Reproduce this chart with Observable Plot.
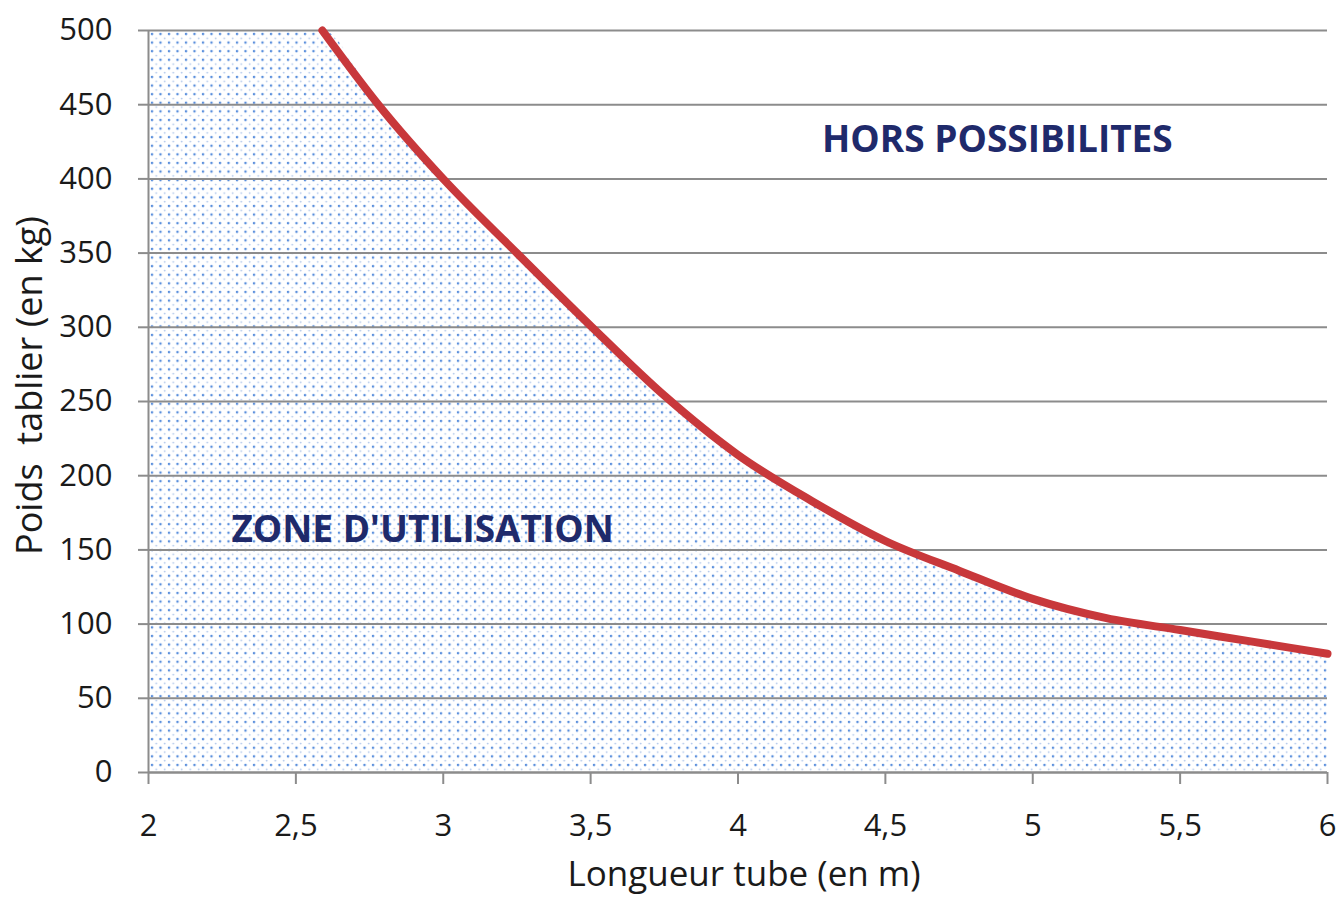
<!DOCTYPE html>
<html>
<head>
<meta charset="utf-8">
<script src="https://cdn.jsdelivr.net/npm/d3@7"></script>
<script src="https://cdn.jsdelivr.net/npm/@observablehq/plot@0.6"></script>
<style>
  html, body { margin: 0; padding: 0; background: #fff; }
  #chart svg { display: block; }
</style>
</head>
<body>
<div id="chart"></div>
<script>
// Curve: Longueur tube (m) -> Poids tablier max (kg)
const longueur = [2.59, 2.78, 3.0, 3.25, 3.5, 3.75, 4.0, 4.25, 4.5, 4.75, 5.0, 5.25, 5.5, 5.75, 6.0];
const poids    = [500,  450,  400, 350,  301, 254,  214, 183,  156, 136,  117, 104,  96,   88,   80];
// Zone d'utilisation: capped at 500 from x=2
const zoneX = [2.0, ...longueur];
const zoneY = [500, ...poids];
const xTicks = [2, 2.5, 3, 3.5, 4, 4.5, 5, 5.5, 6];
const yTicks = [0, 50, 100, 150, 200, 250, 300, 350, 400, 450, 500];
const labels = ["HORS POSSIBILITES", "ZONE D'UTILISATION"];
const labelX = [4.88, 2.93];
const labelY = [426, 163];
const xTitle = "Longueur tube (en m)";
const yTitle = "Poids  tablier (en kg)";

const curve = longueur.map((x, i) => ({x, y: poids[i]}));
const zone = zoneX.map((x, i) => ({x, y: zoneY[i]}));
const notes = labels.map((t, i) => ({t, x: labelX[i], y: labelY[i]}));

const defs = () => {
  const d = d3.create("svg:defs");
  const p = d.append("pattern").attr("id", "dots").attr("patternUnits", "userSpaceOnUse")
    .attr("width", 8.5).attr("height", 8.6).attr("x", 150).attr("y", 32);
  p.append("circle").attr("cx", 2).attr("cy", 2).attr("r", 1.3).attr("fill", "#5a8fdc");
  p.append("circle").attr("cx", 6.25).attr("cy", 6.3).attr("r", 0.9).attr("fill", "#a9c2e8");
  return d.node();
};

const fmt = d => String(d).replace(".", ",");
const font = "'Open Sans', sans-serif";

const chart = Plot.plot({
  width: 1338,
  height: 897,
  marginLeft: 148,
  marginRight: 11,
  marginTop: 30,
  marginBottom: 125,
  style: {fontFamily: font, fontSize: "31px", color: "#1a1a1a", background: "#fff"},
  x: {domain: [2, 6]},
  y: {domain: [0, 500]},
  marks: [
    defs,
    Plot.areaY(zone, {x: "x", y: "y", fill: "url(#dots)", curve: "monotone-x"}),
    Plot.gridY(yTicks, {stroke: "#8c8c8c", strokeOpacity: 1, strokeWidth: 2}),
    Plot.ruleX([2], {stroke: "#8c8c8c", strokeWidth: 2}),
    Plot.ruleY([0], {stroke: "#8c8c8c", strokeWidth: 2}),
    Plot.axisY({ticks: yTicks, tickSize: 10, tickPadding: 26, stroke: "#8c8c8c", strokeWidth: 2, label: null, fontSize: 31}),
    Plot.axisX({ticks: xTicks, tickSize: 12, tickPadding: 29, tickFormat: fmt, stroke: "#8c8c8c", strokeWidth: 2, label: null, fontSize: 31}),
    Plot.line(curve, {x: "x", y: "y", stroke: "#c8383b", strokeWidth: 8, curve: "monotone-x"}),
    Plot.text(notes, {x: "x", y: "y", text: "t", fill: "#1f2a6b", fontWeight: "bold", fontSize: 37}),
    Plot.text([xTitle], {frameAnchor: "bottom", lineAnchor: "middle", dx: 6, dy: 102, fontSize: 35}),
    Plot.text([yTitle], {frameAnchor: "left", textAnchor: "middle", lineAnchor: "middle", rotate: -90, dx: -118, dy: -16, fontSize: 36})
  ]
});
document.getElementById("chart").appendChild(chart);
</script>
</body>
</html>
